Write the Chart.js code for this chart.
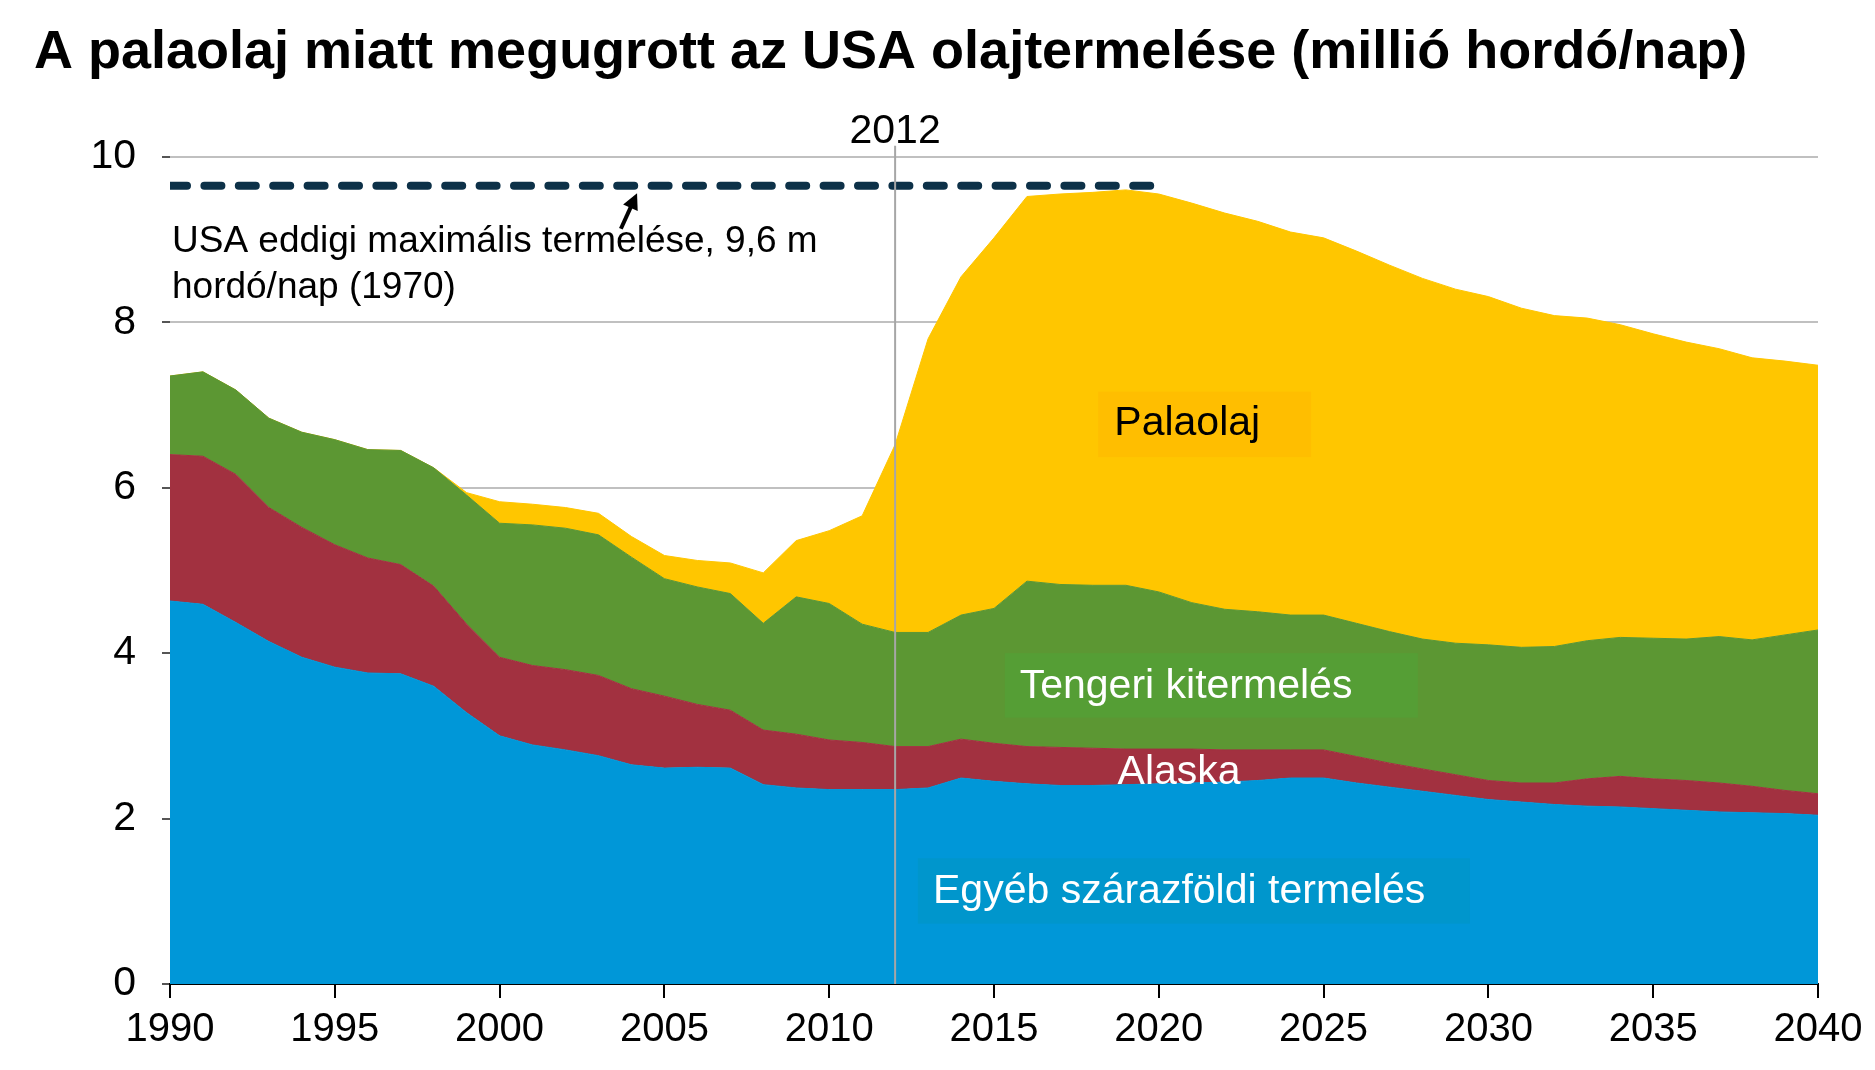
<!DOCTYPE html>
<html>
<head>
<meta charset="utf-8">
<script src="https://cdn.jsdelivr.net/npm/chart.js@4.4.1/dist/chart.umd.min.js"></script>
<style>
  body { margin: 0; background: #fff; }
  #wrap { width: 1875px; height: 1070px; }
</style>
</head>
<body>
<div id="wrap"><canvas id="oilChart"></canvas></div>
<script>
const titleText = "A palaolaj miatt megugrott az USA olajtermelése (millió hordó/nap)";

const years = [1990, 1991, 1992, 1993, 1994, 1995, 1996, 1997, 1998, 1999,
  2000, 2001, 2002, 2003, 2004, 2005, 2006, 2007, 2008, 2009,
  2010, 2011, 2012, 2013, 2014, 2015, 2016, 2017, 2018, 2019,
  2020, 2021, 2022, 2023, 2024, 2025, 2026, 2027, 2028, 2029,
  2030, 2031, 2032, 2033, 2034, 2035, 2036, 2037, 2038, 2039, 2040];

const seriesNames = ["Egyéb szárazföldi termelés", "Alaska", "Tengeri kitermelés", "Palaolaj"];

// million barrels per day, stacked bottom to top
const onshoreOther = [4.63, 4.59, 4.37, 4.14, 3.95, 3.83, 3.76, 3.75, 3.60, 3.28,
  3.00, 2.89, 2.83, 2.76, 2.65, 2.61, 2.62, 2.61, 2.41, 2.37,
  2.35, 2.35, 2.35, 2.37, 2.49, 2.45, 2.42, 2.40, 2.40, 2.41,
  2.42, 2.43, 2.44, 2.46, 2.49, 2.49, 2.43, 2.38, 2.33, 2.28,
  2.23, 2.20, 2.17, 2.15, 2.14, 2.12, 2.10, 2.08, 2.07, 2.06, 2.04];

const alaska = [1.77, 1.79, 1.79, 1.62, 1.57, 1.48, 1.39, 1.32, 1.21, 1.07,
  0.95, 0.96, 0.97, 0.97, 0.92, 0.87, 0.76, 0.70, 0.66, 0.65,
  0.60, 0.57, 0.52, 0.50, 0.47, 0.46, 0.45, 0.46, 0.45, 0.43,
  0.42, 0.41, 0.39, 0.37, 0.34, 0.34, 0.32, 0.29, 0.27, 0.25,
  0.23, 0.23, 0.26, 0.33, 0.37, 0.36, 0.36, 0.35, 0.32, 0.28, 0.26];

const offshore = [0.95, 1.02, 1.02, 1.08, 1.15, 1.27, 1.31, 1.38, 1.43, 1.56,
  1.62, 1.70, 1.71, 1.70, 1.59, 1.42, 1.42, 1.41, 1.29, 1.66,
  1.65, 1.43, 1.38, 1.38, 1.50, 1.63, 2.00, 1.97, 1.97, 1.98,
  1.90, 1.77, 1.70, 1.67, 1.63, 1.63, 1.61, 1.59, 1.57, 1.59,
  1.64, 1.64, 1.65, 1.67, 1.68, 1.70, 1.71, 1.77, 1.77, 1.88, 1.98];

const shale = [0, 0, 0, 0, 0, 0, 0, 0, 0, 0.03,
  0.26, 0.25, 0.25, 0.26, 0.25, 0.28, 0.32, 0.37, 0.61, 0.68,
  0.88, 1.31, 2.27, 3.55, 4.09, 4.48, 4.65, 4.72, 4.75, 4.78,
  4.81, 4.83, 4.79, 4.72, 4.63, 4.56, 4.50, 4.43, 4.36, 4.28,
  4.21, 4.10, 4.00, 3.90, 3.78, 3.68, 3.59, 3.48, 3.41, 3.31, 3.20];

// historic peak (1970) drawn as dashed line
const peakYears = [1990, 2020];
const peakLevel = [9.65, 9.65];
const peakNote = ["USA eddigi maximális termelése, 9,6 m", "hordó/nap (1970)"];
const markYear = 2012;

const FONT = '"Liberation Sans", Arial, sans-serif';
const toPoints = (xs, vals) => xs.map((yr, i) => ({ x: yr, y: vals[i] }));

function area(label, values, color, fill) {
  return {
    label: label,
    data: toPoints(years, values),
    backgroundColor: color,
    borderColor: color,
    borderWidth: 1,
    pointRadius: 0,
    tension: 0,
    fill: fill,
    stack: 'prod'
  };
}

const annotations = {
  id: 'annotations',
  afterDatasetsDraw(chart) {
    const { ctx, chartArea, scales } = chart;
    const px = v => scales.x.getPixelForValue(v);
    const py = v => scales.y.getPixelForValue(v);
    ctx.save();

    // 2012 marker line + label
    const xm = px(markYear);
    ctx.strokeStyle = '#a6a6a6';
    ctx.lineWidth = 2;
    ctx.beginPath();
    ctx.moveTo(xm, chartArea.top - 11);
    ctx.lineTo(xm, chartArea.bottom);
    ctx.stroke();
    ctx.fillStyle = '#000';
    ctx.font = '41px ' + FONT;
    ctx.textAlign = 'center';
    ctx.textBaseline = 'middle';
    ctx.fillText(String(markYear), xm, chartArea.top - 25);

    // note under the peak line
    ctx.font = '37px ' + FONT;
    ctx.textAlign = 'left';
    ctx.fillText(peakNote[0], px(1990.06), py(8.97));
    ctx.fillText(peakNote[1], px(1990.06), py(8.42));

    // arrow to the dashed line
    const x0 = px(2003.68), y0 = py(9.13), x1 = px(2004.17), y1 = py(9.56);
    const ang = Math.atan2(y1 - y0, x1 - x0);
    const c = Math.cos(ang), s = Math.sin(ang);
    ctx.strokeStyle = '#000';
    ctx.lineWidth = 4;
    ctx.beginPath();
    ctx.moveTo(x0, y0);
    ctx.lineTo(x1 - 10 * c, y1 - 10 * s);
    ctx.stroke();
    ctx.beginPath();
    ctx.moveTo(x1, y1);
    ctx.lineTo(x1 - 16 * c + 8 * s, y1 - 16 * s - 8 * c);
    ctx.lineTo(x1 - 16 * c - 8 * s, y1 - 16 * s + 8 * c);
    ctx.closePath();
    ctx.fill();

    // series labels
    const labels = [
      { text: seriesNames[3], color: '#000', bg: '#ffbe00', box: [2018.16, 7.16, 2024.62, 6.37], at: [2018.65, 6.77] },
      { text: seriesNames[2], color: '#fff', bg: '#559e35', box: [2015.33, 4.00, 2027.86, 3.22], at: [2015.78, 3.60] },
      { text: seriesNames[1], color: '#fff', bg: null, at: [2018.75, 2.56] },
      { text: seriesNames[0], color: '#fff', bg: '#0096cc', box: [2012.69, 1.52, 2029.44, 0.73], at: [2013.15, 1.11] }
    ];
    ctx.font = '41px ' + FONT;
    ctx.textBaseline = 'middle';
    labels.forEach(l => {
      if (l.bg) {
        ctx.fillStyle = l.bg;
        const bx = px(l.box[0]), by = py(l.box[1]);
        ctx.fillRect(bx, by, px(l.box[2]) - bx, py(l.box[3]) - by);
      }
      ctx.fillStyle = l.color;
      ctx.fillText(l.text, px(l.at[0]), py(l.at[1]));
    });

    ctx.restore();
  }
};

new Chart(document.getElementById('oilChart'), {
  type: 'line',
  data: {
    datasets: [
      area(seriesNames[0], onshoreOther, '#0097d8', 'origin'),
      area(seriesNames[1], alaska, '#a23140', '-1'),
      area(seriesNames[2], offshore, '#5c9733', '-1'),
      area(seriesNames[3], shale, '#ffc600', '-1'),
      {
        label: 'Maximum',
        data: toPoints(peakYears, peakLevel),
        borderColor: '#0d3148',
        borderWidth: 8,
        borderDash: [17, 17.4],
        borderCapStyle: 'round',
        pointRadius: 0,
        fill: false,
        stack: 'peak',
        order: -1
      }
    ]
  },
  options: {
    responsive: true,
    maintainAspectRatio: false,
    animation: false,
    layout: { padding: { left: 34, right: 57, top: 0, bottom: 8 } },
    plugins: {
      legend: { display: false },
      tooltip: { enabled: false },
      title: {
        display: true,
        text: titleText,
        align: 'start',
        color: '#000',
        font: { family: FONT, size: 54, weight: 'bold' },
        padding: { top: 21, bottom: 71 }
      }
    },
    scales: {
      x: {
        type: 'linear',
        min: 1990,
        max: 2040,
        z: 1,
        ticks: {
          stepSize: 5,
          color: '#000',
          font: { family: FONT, size: 40 },
          padding: 8,
          maxRotation: 0,
          autoSkip: false,
          callback: v => String(v)
        },
        grid: { drawOnChartArea: false, color: '#000', lineWidth: 2, tickLength: 14 },
        border: { color: '#000', width: 2 }
      },
      y: {
        stacked: true,
        min: 0,
        max: 10,
        ticks: { stepSize: 2, color: '#000', font: { family: FONT, size: 41 }, padding: 26 },
        grid: { color: '#c0c0c0', lineWidth: 2, tickColor: '#555', tickLength: 8 },
        border: { display: false },
        afterFit: scale => { scale.width = 136; }
      }
    }
  },
  plugins: [annotations]
});
</script>
</body>
</html>
